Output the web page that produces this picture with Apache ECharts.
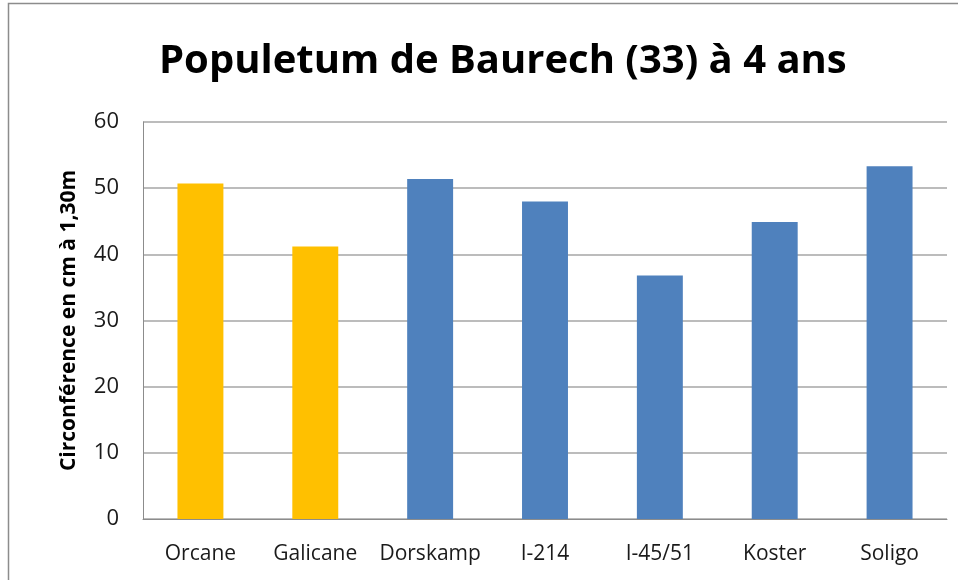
<!DOCTYPE html>
<html>
<head>
<meta charset="utf-8">
<script src="https://cdn.jsdelivr.net/npm/echarts@6/dist/echarts.min.js"></script>
<style>
html,body{margin:0;padding:0;background:#fff;}
#chart{width:958px;height:580px;}
</style>
</head>
<body>
<div id="chart"></div>
<script>
var categories = ['Orcane', 'Galicane', 'Dorskamp', 'I-214', 'I-45/51', 'Koster', 'Soligo'];
var values = [50.7, 41.2, 51.4, 48.0, 36.8, 44.9, 53.3];
var barColors = ['#FFC000', '#FFC000', '#4F81BD', '#4F81BD', '#4F81BD', '#4F81BD', '#4F81BD'];

var chart = echarts.init(document.getElementById('chart'));
var font = "'Open Sans', 'Noto Sans', sans-serif";

var option = {
	backgroundColor: '#fff',
	animation: false,
	title: {
		text: 'Populetum de Baurech (33) à 4 ans',
		left: 154,
		top: 37,
		textStyle: {
			fontFamily: font,
			fontWeight: 'bold',
			fontSize: 40,
			color: '#000'
		}
	},
	graphic: [{
		type: 'rect',
		shape: { x: 8.5, y: 3.5, width: 960, height: 600 },
		style: { fill: 'none', stroke: '#8c8c8c', lineWidth: 1.5 },
		silent: true
	}],
	grid: {
		left: 143,
		right: 11,
		top: 122,
		bottom: 61
	},
	xAxis: {
		type: 'category',
		data: categories,
		axisTick: { show: false },
		axisLine: { lineStyle: { color: '#8c8c8c', width: 1 } },
		axisLabel: {
			fontFamily: font,
			fontSize: 21,
			color: '#1a1a1a',
			margin: 25,
			interval: 0
		}
	},
	yAxis: {
		type: 'value',
		min: 0,
		max: 60,
		interval: 10,
		name: 'Circonférence en cm à 1,30m',
		nameLocation: 'middle',
		nameGap: 63,
		nameTextStyle: {
			fontFamily: font,
			fontWeight: 'bold',
			fontSize: 21,
			color: '#000'
		},
		axisLine: { show: true, lineStyle: { color: '#8c8c8c', width: 1 } },
		axisTick: { show: false },
		axisLabel: {
			fontFamily: font,
			fontSize: 22,
			color: '#1a1a1a',
			margin: 24
		},
		splitLine: { lineStyle: { color: '#a6a6a6', width: 1.5 } }
	},
	series: [{
		type: 'bar',
		barWidth: '40%',
		data: values.map(function(v, i) {
			return { value: v, itemStyle: { color: barColors[i] } };
		})
	}]
};
chart.setOption(option);
</script>
</body>
</html>
